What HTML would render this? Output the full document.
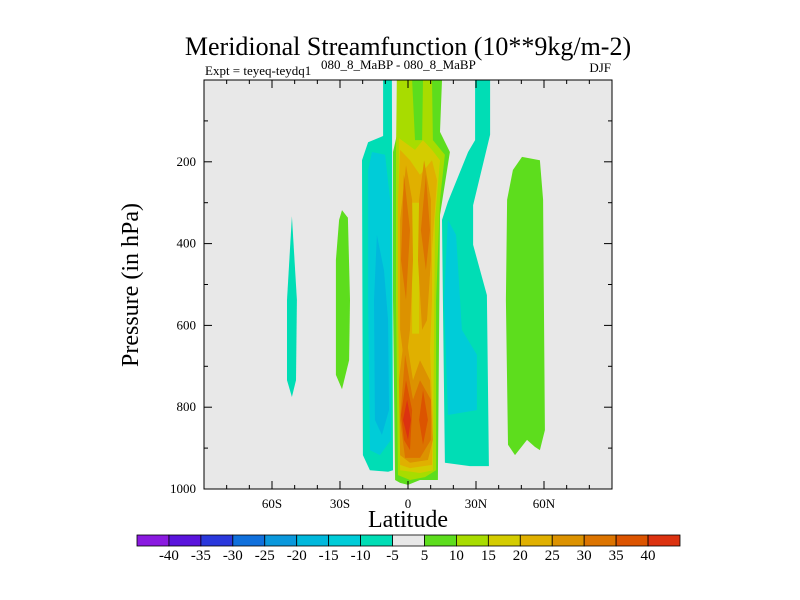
<!DOCTYPE html>
<html><head><meta charset="utf-8"><style>
body{margin:0;background:#fff;}
svg{display:block;font-family:"Liberation Serif",serif;}
</style></head><body>
<svg id="chart" width="800" height="600">
<text x="408" y="55" text-anchor="middle" font-size="26">Meridional Streamfunction (10**9kg/m-2)</text>
<text x="205" y="75" font-size="13">Expt = teyeq-teydq1</text>
<text x="321" y="69" font-size="13">080_8_MaBP - 080_8_MaBP</text>
<text x="611" y="72" text-anchor="end" font-size="13">DJF</text>
<rect x="204" y="80" width="408" height="409" fill="#e8e8e8"/>
<g id="fills"></g>
<rect x="204" y="80" width="408" height="409" fill="none" stroke="#000" stroke-width="1"/>
<g id="axes"></g>
<text x="408" y="527" text-anchor="middle" font-size="24">Latitude</text>
<text transform="translate(138,285) rotate(-90)" text-anchor="middle" font-size="24">Pressure (in hPa)</text>
<g id="colorbar"></g>
</svg>
<script>
const latTicks=[-60,-30,0,30,60];
const latTickLabels=["60S","30S","0","30N","60N"];
const presTicks=[200,400,600,800,1000];
const cbLabels=[-40,-35,-30,-25,-20,-15,-10,-5,5,10,15,20,25,30,35,40];
const cbColors=["#8a1ae0","#5a14dc","#2a38dc","#1070dc","#0a98dc","#00b8dc","#00ccd8","#00ddb5","#e8e8e8","#5ddd1d","#a8dc00","#d4cc00","#e0b000","#dc9200","#dc7400","#dc5400","#dc3210"];
// contour band shapes: level index into cbColors, points as [lat, pressure]
const shapeLevels=[7,9,7,6,5,7,6,9,9,10,11,12,11,13,13,13,14,14,14,15,15,16];
const shapePoints=[
[[-51.2,333],[-49,538],[-49.4,734],[-51.2,775],[-53.4,734],[-53.4,538]],
[[-29.1,318],[-26.5,337],[-25.6,538],[-26,685],[-29.1,756],[-31.8,721],[-31.8,440],[-30.4,342]],
[[-11,0],[-7.1,0],[-6.6,954],[-8.8,958],[-16.8,954],[-19.9,917],[-20.3,196],[-17.6,152],[-11,137]],
[[-15.9,176],[-10.1,183],[-7.9,293],[-7.5,880],[-12.4,917],[-16.8,905],[-17.6,538],[-17.6,220]],
[[-13.7,379],[-10.6,465],[-8.8,587],[-8.4,807],[-11.5,868],[-14.6,831],[-15,538]],
[[29.6,0],[36.2,0],[36.2,134],[28.7,306],[28.7,403],[34.8,526],[35.7,944],[27.3,944],[16.3,936],[15.4,538],[15,342],[17.6,298],[26.5,176],[29.6,147]],
[[17.6,342],[21.2,379],[23.8,611],[30.4,672],[30.4,807],[17.6,819],[15.9,538]],
[[50.3,188],[58.2,196],[59.6,293],[60.4,856],[58.2,905],[56,897],[52.5,880],[47.2,917],[44.1,892],[43.2,538],[43.7,293],[46.3,220]],
[[-4.9,0],[15,0],[14.1,127],[18.5,176],[14.1,330],[13.2,978],[5.3,978],[0,990],[-3.5,985],[-5.7,978],[-6.6,538],[-6.6,176],[-4.9,134]],
[[-4.9,0],[1.8,0],[3.1,147],[6.2,147],[6.6,0],[10.6,0],[11,147],[16.3,183],[14.1,293],[12.4,538],[12.4,954],[7.5,971],[0.9,978],[-4.4,966],[-5.3,538],[-5.3,171]],
[[-4,142],[3.1,171],[6.6,147],[10.6,171],[14.1,196],[11.9,342],[11,954],[5.3,961],[-3.5,954],[-4.4,538]],
[[-3.5,171],[0.9,196],[5.3,232],[10.6,196],[12.8,245],[10.6,416],[10.6,538],[9.7,660],[11,831],[10.6,941],[0.9,949],[-3.5,941],[-4.4,538],[-4.4,293]],
[[1.8,300],[4.9,300],[4.9,620],[1.8,620]],
[[-0.9,208],[1.8,293],[2.2,440],[0.9,611],[-1.3,709],[-3.5,611],[-3.5,342]],
[[7.1,196],[10.1,293],[10.1,440],[8.4,587],[6.2,611],[4.4,440],[4.9,293]],
[[-1.3,611],[2.2,734],[5.3,685],[9.7,734],[11,880],[8.8,929],[0.9,936],[-3.5,917],[-4,734]],
[[-1.8,232],[0.9,367],[-0.9,538],[-3.1,440],[-2.6,367]],
[[7.9,232],[9.7,367],[7.9,465],[5.7,367]],
[[-1.3,672],[2.2,782],[5.3,734],[10.1,782],[10.1,880],[5.3,924],[-1.3,924],[-3.5,831]],
[[-0.9,734],[1.8,807],[0.9,905],[-1.8,880],[-3.1,819]],
[[6.6,758],[8.8,831],[6.6,892],[4.9,831]],
[[-0.4,782],[1.3,831],[0,880],[-2.2,831]]
];
const NS="http://www.w3.org/2000/svg";
const X0=204,X1=612,Y0=80,Y1=489;
function xs(lat){return X0+(lat+90)/180*(X1-X0);}
function ys(p){return Y0+p/1000*(Y1-Y0);}
const fills=document.getElementById('fills');
shapePoints.forEach((pts,i)=>{
  const pg=document.createElementNS(NS,'polygon');
  pg.setAttribute('points',pts.map(q=>xs(q[0]).toFixed(1)+','+ys(q[1]).toFixed(1)).join(' '));
  pg.setAttribute('fill',cbColors[shapeLevels[i]]);
  
  
  fills.appendChild(pg);
});
const axes=document.getElementById('axes');
function line(x1,y1,x2,y2,name){
  const l=document.createElementNS(NS,'line');
  l.setAttribute('x1',x1);l.setAttribute('y1',y1);l.setAttribute('x2',x2);l.setAttribute('y2',y2);
  l.setAttribute('stroke','#000');l.setAttribute('stroke-width','1');
  
  
  axes.appendChild(l);
}
function text(x,y,s,anchor,size,name){
  const t=document.createElementNS(NS,'text');
  t.setAttribute('x',x);t.setAttribute('y',y);t.setAttribute('text-anchor',anchor);t.setAttribute('font-size',size);
  t.textContent=s;
  
  
  return t;
}
for(let lat=-80;lat<=80;lat+=10){
  const major=lat%30===0;const len=major?8:4;const x=xs(lat);
  line(x,Y1,x,Y1-len,'x-tick');line(x,Y0,x,Y0+len,'x-tick-top');
}
latTicks.forEach((v,i)=>{axes.appendChild(text(xs(v),508,latTickLabels[i],'middle',13,'x-tick-label'));});
for(let p=100;p<1000;p+=100){
  const major=p%200===0;const len=major?8:4;const y=ys(p);
  line(X0,y,X0+len,y,'y-tick');line(X1,y,X1-len,y,'y-tick-right');
}
presTicks.forEach(v=>{axes.appendChild(text(X0-8,ys(v)+4,String(v),'end',13,'y-tick-label'));});
const cb=document.getElementById('colorbar');
const cbX0=137,cbX1=680,cbY=535,cbH=11,bw=(cbX1-cbX0)/cbColors.length;
cbColors.forEach((c,i)=>{
  const r=document.createElementNS(NS,'rect');
  r.setAttribute('x',cbX0+i*bw);r.setAttribute('y',cbY);r.setAttribute('width',bw);r.setAttribute('height',cbH);
  r.setAttribute('fill',c);r.setAttribute('stroke','#000');r.setAttribute('stroke-width','0.8');
  
  
  cb.appendChild(r);
});
cbLabels.forEach((v,i)=>{cb.appendChild(text(cbX0+(i+1)*bw,560,String(v),'middle',15,'colorbar-label'));});
</script>
</body></html>
